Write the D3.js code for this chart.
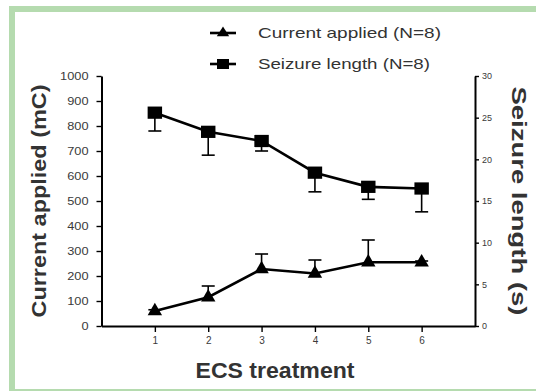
<!DOCTYPE html>
<html>
<head>
<meta charset="utf-8">
<script src="https://cdn.jsdelivr.net/npm/d3@7"></script>
<style>
  html, body { margin: 0; padding: 0; background: #fff; }
  svg { display: block; }
  text { font-family: "Liberation Sans", Arial, sans-serif; }
</style>
</head>
<body>
<svg id="chart" width="536" height="391"></svg>
<script>
// ECS treatment sessions
const categories = [1, 2, 3, 4, 5, 6];
// Current applied (mC), mean and SEM
const currentMean = [60, 115, 228, 210, 255, 255];
const currentSem = [5, 45, 60, 54, 89, 5];
// Seizure length (s), mean and SEM
const seizureMean = [25.6, 23.3, 22.2, 18.4, 16.7, 16.5];
const seizureSem = [2.2, 2.8, 1.2, 2.3, 1.5, 2.8];
// Axis ticks
const leftTicks = [0, 100, 200, 300, 400, 500, 600, 700, 800, 900, 1000];
const rightTicks = [0, 5, 10, 15, 20, 25, 30];
const legendLabels = ["Current applied (N=8)", "Seizure length (N=8)"];

const svg = d3.select("#chart");

// light green frame around the figure
svg.append("rect")
  .attr("x", 12).attr("y", 9).attr("width", 540).attr("height", 383)
  .attr("fill", "#fff").attr("stroke", "#b5dbaf").attr("stroke-width", 6);

const x = d3.scaleLinear().domain([0, 7]).range([101.5, 475]);
const yL = d3.scaleLinear().domain([0, 1000]).range([326, 76]);
const yR = d3.scaleLinear().domain([0, 30]).range([326, 76]);
const fmt = d3.format("d");

function styleAxis(g) {
  g.select(".domain").attr("stroke", "#000").attr("stroke-width", 2);
  g.selectAll(".tick line").attr("stroke", "#000").attr("stroke-width", 1.4);
  g.selectAll(".tick text").attr("fill", "#3a3a3a").attr("font-family", "Liberation Sans, Arial, sans-serif");
}

// left axis
const gL = svg.append("g").attr("transform", `translate(${x(0)},0)`)
  .call(d3.axisLeft(yL).tickValues(leftTicks).tickFormat(fmt).tickSize(5).tickSizeOuter(0).tickPadding(8))
  .call(styleAxis);
gL.selectAll(".tick text").attr("font-size", 10)
  .attr("textLength", d => fmt(d).length * 7.1).attr("lengthAdjust", "spacingAndGlyphs");

// right axis
const gR = svg.append("g").attr("transform", `translate(${x(7)},0)`)
  .call(d3.axisRight(yR).tickValues(rightTicks).tickFormat(fmt).tickSize(4).tickSizeOuter(0).tickPadding(3))
  .call(styleAxis);
gR.selectAll(".tick text").attr("font-size", 9)
  .attr("textLength", d => fmt(d).length * 5).attr("lengthAdjust", "spacingAndGlyphs");

// bottom axis
const gB = svg.append("g").attr("transform", `translate(0,${yL(0)})`)
  .call(d3.axisBottom(x).tickValues(categories).tickFormat(fmt).tickSize(6).tickSizeOuter(0).tickPadding(5))
  .call(styleAxis);
gB.selectAll(".tick text").attr("font-size", 10);

// axis titles
svg.append("text")
  .attr("transform", `translate(46,${(yL(0) + yL(1000)) / 2}) rotate(-90)`)
  .attr("text-anchor", "middle").attr("font-size", 21).attr("font-weight", "bold")
  .attr("fill", "#333").attr("textLength", 233).attr("lengthAdjust", "spacingAndGlyphs")
  .text("Current applied (mC)");

svg.append("text")
  .attr("transform", `translate(512,${(yR(0) + yR(30)) / 2}) rotate(90)`)
  .attr("text-anchor", "middle").attr("font-size", 21).attr("font-weight", "bold")
  .attr("fill", "#333").attr("textLength", 229).attr("lengthAdjust", "spacingAndGlyphs")
  .text("Seizure length (s)");

svg.append("text")
  .attr("x", 275).attr("y", 378)
  .attr("text-anchor", "middle").attr("font-size", 22).attr("font-weight", "bold")
  .attr("fill", "#333").attr("textLength", 159).attr("lengthAdjust", "spacingAndGlyphs")
  .text("ECS treatment");

// data rows
const currentData = categories.map((c, i) => ({c, v: currentMean[i], e: currentSem[i]}));
const seizureData = categories.map((c, i) => ({c, v: seizureMean[i], e: seizureSem[i]}));

const line = (ys) => d3.line().x(d => x(d.c)).y(d => ys(d.v));

svg.append("path").datum(seizureData)
  .attr("d", line(yR)).attr("fill", "none").attr("stroke", "#000").attr("stroke-width", 2.6);
svg.append("path").datum(currentData)
  .attr("d", line(yL)).attr("fill", "none").attr("stroke", "#000").attr("stroke-width", 2.6);

// error bars: seizure length drawn downward, current applied upward
function errorBars(data, ys, dir) {
  const g = svg.append("g").attr("stroke", "#000").attr("stroke-width", 1.6);
  g.selectAll("line.v").data(data).join("line")
    .attr("x1", d => x(d.c)).attr("x2", d => x(d.c))
    .attr("y1", d => ys(d.v)).attr("y2", d => ys(d.v + dir * d.e));
  g.selectAll("line.cap").data(data).join("line")
    .attr("x1", d => x(d.c) - 6.5).attr("x2", d => x(d.c) + 6.5)
    .attr("y1", d => ys(d.v + dir * d.e)).attr("y2", d => ys(d.v + dir * d.e));
}
errorBars(seizureData, yR, -1);
errorBars(currentData, yL, 1);

// markers
const sq = d3.symbol().type(d3.symbolSquare).size(150);
const tri = d3.symbol().type(d3.symbolTriangle).size(90);
svg.append("g").selectAll("path").data(seizureData).join("path")
  .attr("d", sq).attr("fill", "#000")
  .attr("transform", d => `translate(${x(d.c)},${yR(d.v)}) scale(1.18,1)`);
svg.append("g").selectAll("path").data(currentData).join("path")
  .attr("d", tri).attr("fill", "#000")
  .attr("transform", d => `translate(${x(d.c)},${yL(d.v)})`);

// legend
const legend = svg.append("g");
const legendY = [33, 64];
const symbols = [d3.symbol().type(d3.symbolTriangle).size(55), d3.symbol().type(d3.symbolSquare).size(100)];
const legendLen = [183, 172];
legendLabels.forEach((lab, i) => {
  legend.append("line")
    .attr("x1", 210).attr("x2", 236).attr("y1", legendY[i]).attr("y2", legendY[i])
    .attr("stroke", "#000").attr("stroke-width", 2.6);
  legend.append("path").attr("d", symbols[i]()).attr("fill", "#000")
    .attr("transform", `translate(223,${legendY[i]}) scale(${i === 1 ? 1.2 : 1.1},1)`);
  legend.append("text")
    .attr("x", 258).attr("y", legendY[i]).attr("dy", "0.36em")
    .attr("font-size", 15).attr("fill", "#333")
    .attr("textLength", legendLen[i]).attr("lengthAdjust", "spacingAndGlyphs")
    .text(lab);
});
</script>
</body>
</html>
